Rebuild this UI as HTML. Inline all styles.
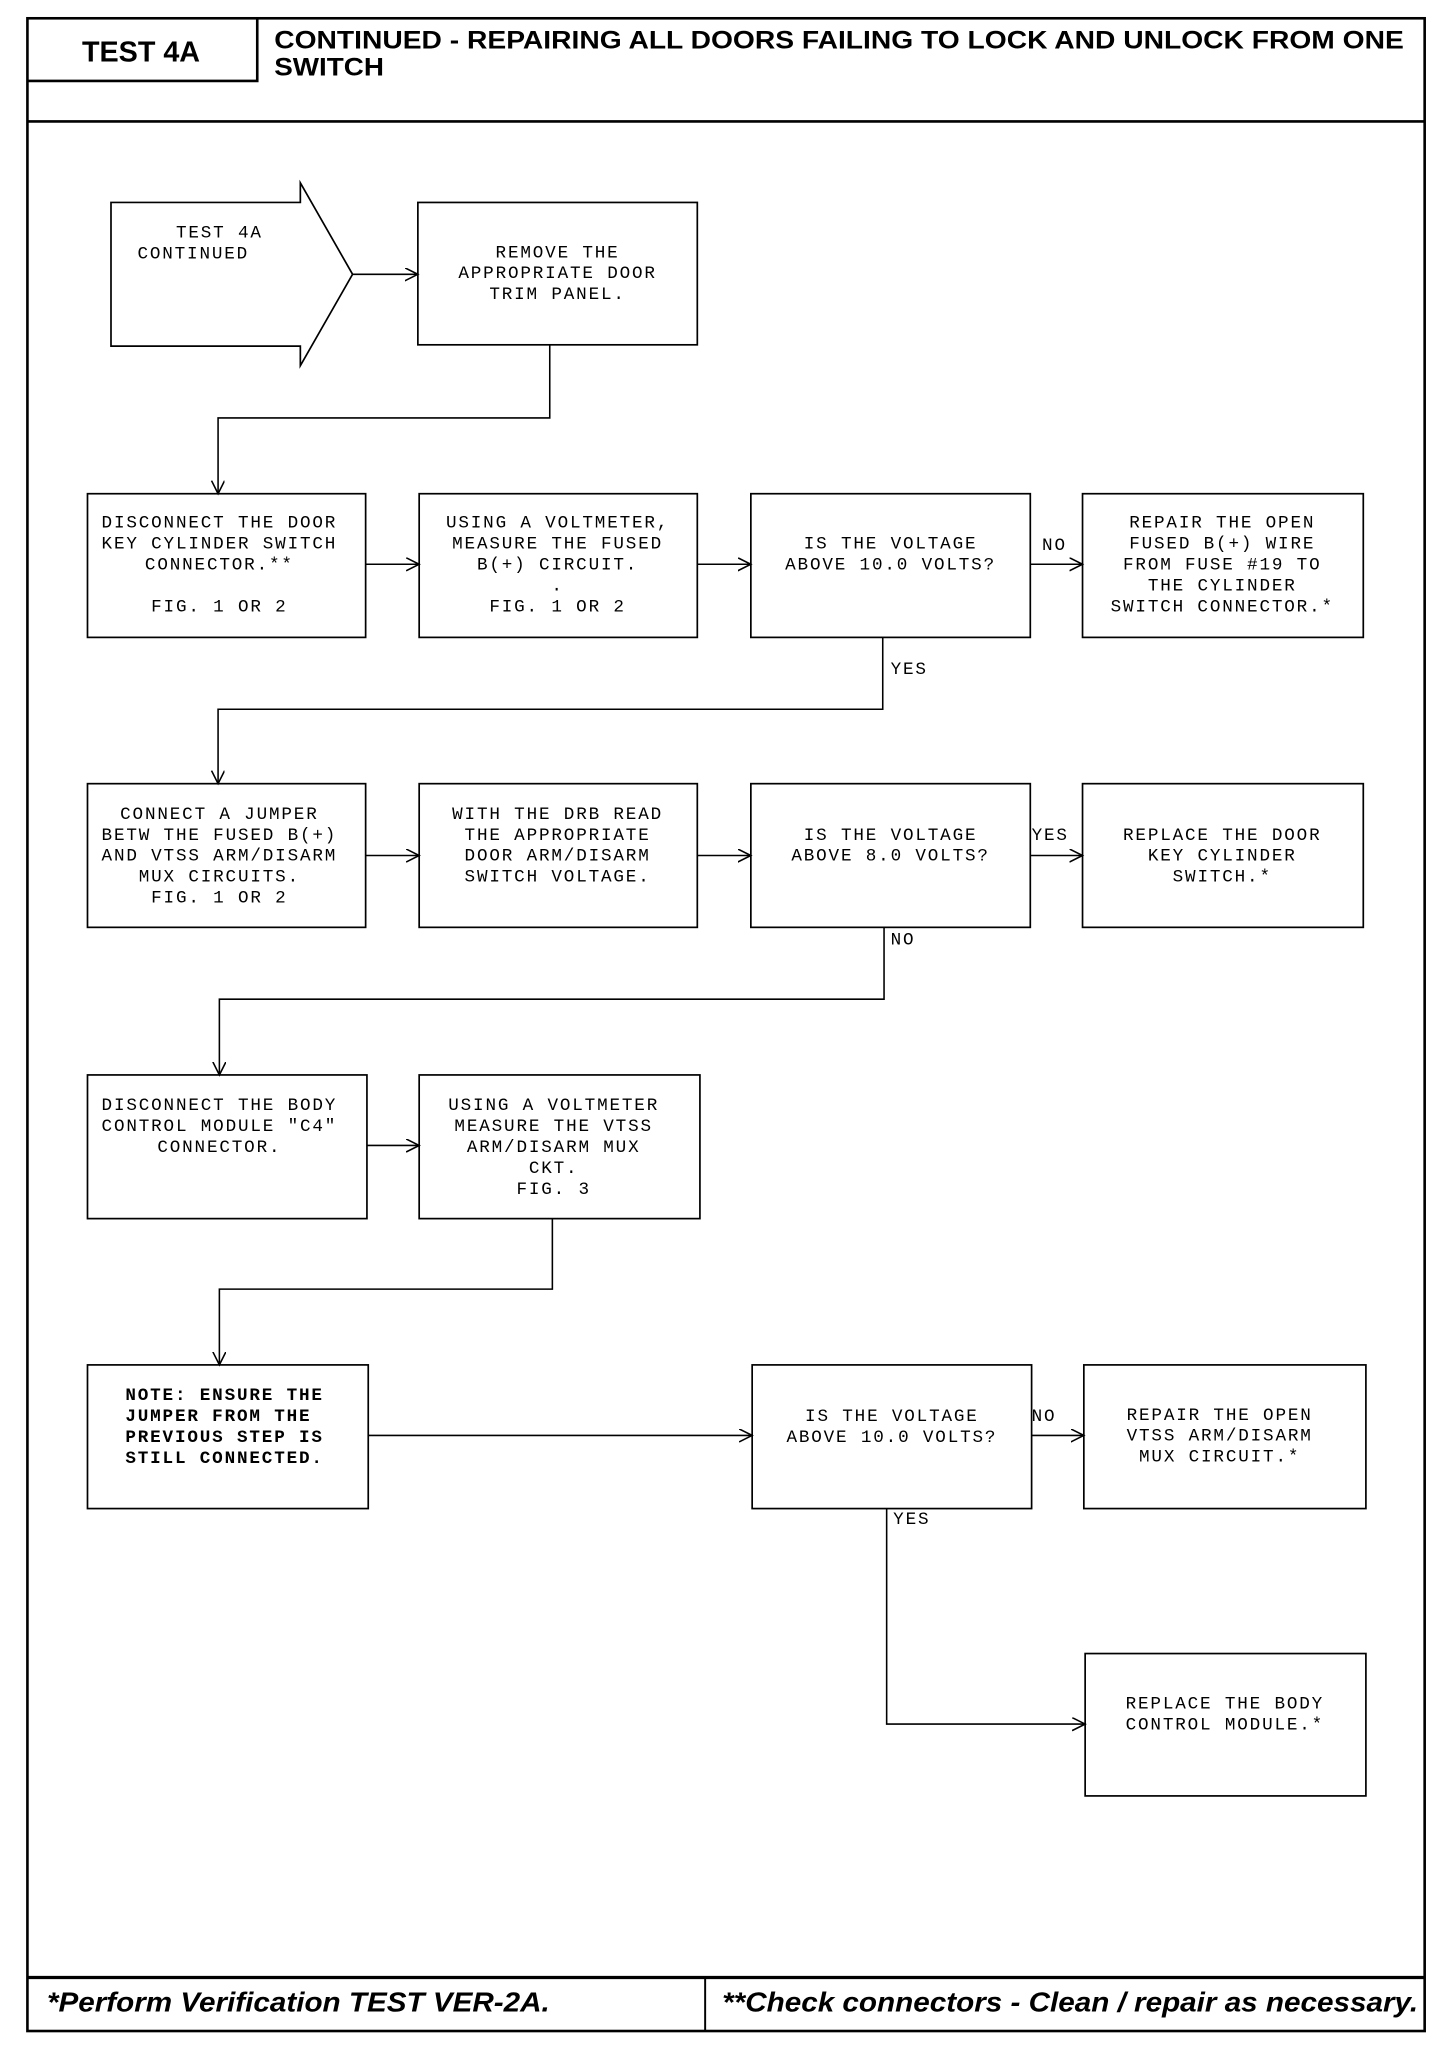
<!DOCTYPE html>
<html><head><meta charset="utf-8"><style>
html,body{margin:0;padding:0;background:#fff;}
svg{display:block;}
.m{font-family:"Liberation Mono",monospace;font-size:13.5px;letter-spacing:1.4px;fill:#000;}
.b{font-weight:bold;}
.h{font-family:"Liberation Sans",sans-serif;font-weight:bold;fill:#000;}
</style></head><body>
<svg width="1456" height="2048" viewBox="0 0 1115 1568" preserveAspectRatio="none" xmlns="http://www.w3.org/2000/svg">
<defs><marker id="a" markerWidth="12" markerHeight="12" refX="10" refY="5" orient="auto" markerUnits="userSpaceOnUse"><path d="M0,0 L10,5 L0,10" fill="none" stroke="#000" stroke-width="1.2"/></marker></defs>
<g fill="none" stroke="#000">
<rect x="21" y="14" width="1070" height="1541" stroke-width="2"/>
<line x1="21" y1="93" x2="1091" y2="93" stroke-width="2"/>
<polyline points="21,62 197,62 197,14" stroke-width="2"/>
<line x1="21" y1="1514" x2="1091" y2="1514" stroke-width="2.5"/>
<line x1="540" y1="1514" x2="540" y2="1555" stroke-width="1.5"/>
<g stroke-width="1.3">
<polygon points="85,155 230,155 230,140 270,210 230,280 230,265 85,265"/>
<rect x="320" y="155" width="214" height="109"/>
<rect x="67" y="378" width="213" height="110"/>
<rect x="321" y="378" width="213" height="110"/>
<rect x="575" y="378" width="214" height="110"/>
<rect x="829" y="378" width="215" height="110"/>
<rect x="67" y="600" width="213" height="110"/>
<rect x="321" y="600" width="213" height="110"/>
<rect x="575" y="600" width="214" height="110"/>
<rect x="829" y="600" width="215" height="110"/>
<rect x="67" y="823" width="214" height="110"/>
<rect x="321" y="823" width="215" height="110"/>
<rect x="67" y="1045" width="215" height="110"/>
<rect x="576" y="1045" width="214" height="110"/>
<rect x="830" y="1045" width="216" height="110"/>
<rect x="831" y="1266" width="215" height="109"/>
</g>
<g stroke-width="1.2" marker-end="url(#a)">
<line x1="270" y1="210" x2="320" y2="210"/>
<polyline points="421,264 421,320 167,320 167,378"/>
<line x1="280" y1="432" x2="321" y2="432"/>
<line x1="534" y1="432" x2="575" y2="432"/>
<line x1="789" y1="432" x2="829" y2="432"/>
<polyline points="676,488 676,543 167,543 167,600"/>
<line x1="280" y1="655" x2="321" y2="655"/>
<line x1="534" y1="655" x2="575" y2="655"/>
<line x1="789" y1="655" x2="829" y2="655"/>
<polyline points="677,710 677,765 168,765 168,823"/>
<line x1="281" y1="877" x2="321" y2="877"/>
<polyline points="423,933 423,987 168,987 168,1045"/>
<line x1="282" y1="1099" x2="576" y2="1099"/>
<line x1="790" y1="1099" x2="830" y2="1099"/>
<polyline points="679,1155 679,1320 831,1320"/>
</g>
</g>
<text class="h" x="108" y="47" font-size="22" text-anchor="middle">TEST 4A</text>
<text class="h" x="210" y="37" font-size="19" textLength="865" lengthAdjust="spacingAndGlyphs">CONTINUED - REPAIRING ALL DOORS FAILING TO LOCK AND UNLOCK FROM ONE</text>
<text class="h" x="210" y="58" font-size="19" textLength="84" lengthAdjust="spacingAndGlyphs">SWITCH</text>
<g class="m" text-anchor="middle">
<text x="168" y="182">TEST 4A</text>
<text x="148" y="198">CONTINUED</text>
<text x="427" y="197">REMOVE THE</text><text x="427" y="213">APPROPRIATE DOOR</text><text x="427" y="229">TRIM PANEL.</text>
<text x="168" y="404">DISCONNECT THE DOOR</text><text x="168" y="420">KEY CYLINDER SWITCH</text><text x="168" y="436">CONNECTOR.**</text><text x="168" y="468">FIG. 1 OR 2</text>
<text x="427" y="404">USING A VOLTMETER,</text><text x="427" y="420">MEASURE THE FUSED</text><text x="427" y="436">B(+) CIRCUIT.</text><text x="427" y="452">.</text><text x="427" y="468">FIG. 1 OR 2</text>
<text x="682" y="420">IS THE VOLTAGE</text><text x="682" y="436">ABOVE 10.0 VOLTS?</text>
<text x="936" y="404">REPAIR THE OPEN</text><text x="936" y="420">FUSED B(+) WIRE</text><text x="936" y="436">FROM FUSE #19 TO</text><text x="936" y="452">THE CYLINDER</text><text x="936" y="468">SWITCH CONNECTOR.*</text>
<text x="168" y="627">CONNECT A JUMPER</text><text x="168" y="643">BETW THE FUSED B(+)</text><text x="168" y="659">AND VTSS ARM/DISARM</text><text x="168" y="675">MUX CIRCUITS.</text><text x="168" y="691">FIG. 1 OR 2</text>
<text x="427" y="627">WITH THE DRB READ</text><text x="427" y="643">THE APPROPRIATE</text><text x="427" y="659">DOOR ARM/DISARM</text><text x="427" y="675">SWITCH VOLTAGE.</text>
<text x="682" y="643">IS THE VOLTAGE</text><text x="682" y="659">ABOVE 8.0 VOLTS?</text>
<text x="936" y="643">REPLACE THE DOOR</text><text x="936" y="659">KEY CYLINDER</text><text x="936" y="675">SWITCH.*</text>
<text x="168" y="850">DISCONNECT THE BODY</text><text x="168" y="866">CONTROL MODULE "C4"</text><text x="168" y="882">CONNECTOR.</text>
<text x="424" y="850">USING A VOLTMETER</text><text x="424" y="866">MEASURE THE VTSS</text><text x="424" y="882">ARM/DISARM MUX</text><text x="424" y="898">CKT.</text><text x="424" y="914">FIG. 3</text>
<text x="683" y="1088">IS THE VOLTAGE</text><text x="683" y="1104">ABOVE 10.0 VOLTS?</text>
<text x="934" y="1087">REPAIR THE OPEN</text><text x="934" y="1103">VTSS ARM/DISARM</text><text x="934" y="1119">MUX CIRCUIT.*</text>
<text x="938" y="1308">REPLACE THE BODY</text><text x="938" y="1324">CONTROL MODULE.*</text>
</g>
<g class="m b">
<text x="96" y="1072">NOTE: ENSURE THE</text><text x="96" y="1088">JUMPER FROM THE</text><text x="96" y="1104">PREVIOUS STEP IS</text><text x="96" y="1120">STILL CONNECTED.</text>
</g>
<g class="m">
<text x="798" y="421">NO</text><text x="682" y="516">YES</text>
<text x="790" y="643">YES</text><text x="682" y="723">NO</text>
<text x="790" y="1088">NO</text><text x="684" y="1167">YES</text>
</g>
<text class="h" x="36" y="1540" font-size="21" font-style="italic" textLength="385" lengthAdjust="spacingAndGlyphs">*Perform Verification TEST VER-2A.</text>
<text class="h" x="553" y="1540" font-size="21" font-style="italic" textLength="533" lengthAdjust="spacingAndGlyphs">**Check connectors - Clean / repair as necessary.</text>
</svg>
</body></html>
